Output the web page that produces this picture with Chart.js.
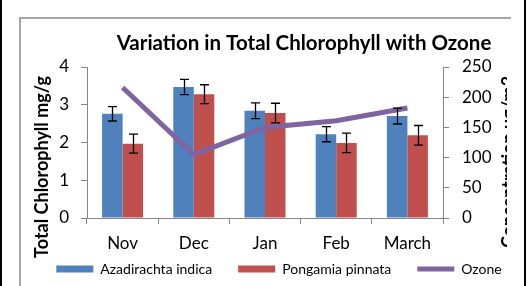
<!DOCTYPE html>
<html>
<head>
<meta charset="utf-8">
<script src="https://cdn.jsdelivr.net/npm/chart.js@4"></script>
<style>
  body { margin: 0; background: #fff; }
  .edge { position: absolute; background: #000; top: 0; height: 286px; width: 2px; }
  .frame { position: absolute; background: #a6a6a6; }
  #clip { position: absolute; left: 0; top: 0; width: 507px; height: 286px; overflow: hidden; }
  #box { width: 530px; height: 286px; }
</style>
</head>
<body>
<div class="edge" style="left:0"></div>
<div class="edge" style="left:524px"></div>
<div class="frame" style="left:19px; top:17px; width:492px; height:2px"></div>
<div class="frame" style="left:19px; top:17px; width:2px; height:269px"></div>
<div id="clip"><div id="box"><canvas id="grafico"></canvas></div></div>
<script>
const meses = ['Nov', 'Dec', 'Jan', 'Feb', 'March'];
const azadirachta = [2.76, 3.47, 2.84, 2.22, 2.70];
const azadirachtaErr = [0.19, 0.20, 0.21, 0.20, 0.21];
const pongamia = [1.97, 3.28, 2.78, 1.99, 2.19];
const pongamiaErr = [0.25, 0.25, 0.26, 0.26, 0.26];
const ozono = [216, 105, 150, 161, 182];

const tituloGrafico = 'Variation in Total Chlorophyll with Ozone';
const tituloIzq = 'Total Chlorophyll mg/g';
const tituloDer = 'Concentration ug/m3';

const fuente = 'Lato';
const gris = '#868686';

// barras de error y titulos dibujados a mano
const extras = {
  id: 'extras',
  afterLayout(chart) {
    // que las etiquetas del eje x no se recorten
    chart.scales.x.bottom += 26;
  },
  afterDatasetsDraw(chart) {
    const ctx = chart.ctx;
    const y = chart.scales.y;
    const series = [[0, azadirachta, azadirachtaErr], [1, pongamia, pongamiaErr]];
    ctx.save();
    ctx.strokeStyle = '#000';
    ctx.lineWidth = 1.3;
    series.forEach(([idx, vals, errs]) => {
      const meta = chart.getDatasetMeta(idx);
      meta.data.forEach((bar, i) => {
        const x = Math.round(bar.x) + 0.5;
        const top = y.getPixelForValue(vals[i] + errs[i]);
        const bot = y.getPixelForValue(vals[i] - errs[i]);
        ctx.beginPath();
        ctx.moveTo(x, top); ctx.lineTo(x, bot);
        ctx.moveTo(x - 4.5, top); ctx.lineTo(x + 4.5, top);
        ctx.moveTo(x - 4.5, bot); ctx.lineTo(x + 4.5, bot);
        ctx.stroke();
      });
    });
    ctx.restore();
  },
  afterDraw(chart) {
    const ctx = chart.ctx;
    ctx.save();
    ctx.fillStyle = '#000';
    ctx.textAlign = 'center';
    ctx.textBaseline = 'alphabetic';
    ctx.font = `bold 20.5px ${fuente}`;
    ctx.fillText(tituloGrafico, 304, 50);
    ctx.font = `bold 18px ${fuente}`;
    ctx.translate(48, 167);
    ctx.rotate(-Math.PI / 2);
    ctx.fillText(tituloIzq, 0, 0);
    ctx.restore();
    ctx.save();
    ctx.fillStyle = '#000';
    ctx.textAlign = 'center';
    ctx.font = `bold 18px ${fuente}`;
    ctx.translate(509, 162);
    ctx.rotate(-Math.PI / 2);
    ctx.fillText(tituloDer, 0, 0);
    ctx.restore();
  }
};

const orden = [0, 1, 2];

new Chart(document.getElementById('grafico'), {
  data: {
    labels: meses,
    datasets: [
      {
        type: 'bar',
        label: 'Azadirachta indica',
        data: azadirachta,
        backgroundColor: '#4F81BD',
        yAxisID: 'y',
        barPercentage: 1,
        categoryPercentage: 0.576
      },
      {
        type: 'bar',
        label: 'Pongamia pinnata',
        data: pongamia,
        backgroundColor: '#C0504D',
        yAxisID: 'y',
        barPercentage: 1,
        categoryPercentage: 0.576
      },
      {
        type: 'line',
        label: 'Ozone',
        data: ozono,
        borderColor: '#8064A2',
        backgroundColor: '#8064A2',
        borderWidth: 5,
        pointRadius: 0,
        tension: 0,
        yAxisID: 'y1',
        order: -1
      }
    ]
  },
  options: {
    responsive: true,
    maintainAspectRatio: false,
    animation: false,
    layout: { padding: { top: 67, left: 28, right: 0, bottom: 0 } },
    plugins: {
      tooltip: { enabled: false },
      title: { display: false },
      legend: {
        position: 'bottom',
        labels: {
          usePointStyle: true,
          pointStyleWidth: 37,
          boxHeight: 7,
          padding: 26,
          color: '#000',
          font: { family: fuente, size: 14 },
          sort: (a, b) => orden.indexOf(a.datasetIndex) - orden.indexOf(b.datasetIndex),
          generateLabels: (chart) => {
            const items = Chart.defaults.plugins.legend.labels.generateLabels(chart);
            items.forEach(it => {
              if (it.datasetIndex === 2) {
                it.pointStyle = 'line';
                it.lineWidth = 5;
                it.strokeStyle = '#8064A2';
              } else {
                it.pointStyle = 'rect';
                it.lineWidth = 0;
              }
            });
            return items;
          }
        }
      }
    },
    scales: {
      x: {
        grid: { display: true, drawOnChartArea: false, offset: true, tickLength: 6, color: gris },
        border: { color: gris },
        ticks: { color: '#000', padding: 9, font: { family: fuente, size: 17 } },
        afterFit: (s) => { s.height = 18; }
      },
      y: {
        position: 'left',
        min: 0,
        max: 4,
        ticks: { stepSize: 1, color: '#000', padding: 12, font: { family: fuente, size: 17 } },
        grid: { drawOnChartArea: false, tickLength: 6, color: gris },
        border: { color: gris },
        afterFit: (s) => { s.width = 59; }
      },
      y1: {
        position: 'right',
        min: 0,
        max: 250,
        ticks: { stepSize: 50, color: '#000', padding: 13, font: { family: fuente, size: 17 } },
        grid: { drawOnChartArea: false, tickLength: 6, color: gris },
        border: { color: gris },
        afterFit: (s) => { s.width = 87; }
      }
    }
  },
  plugins: [extras]
});
</script>
</body>
</html>
